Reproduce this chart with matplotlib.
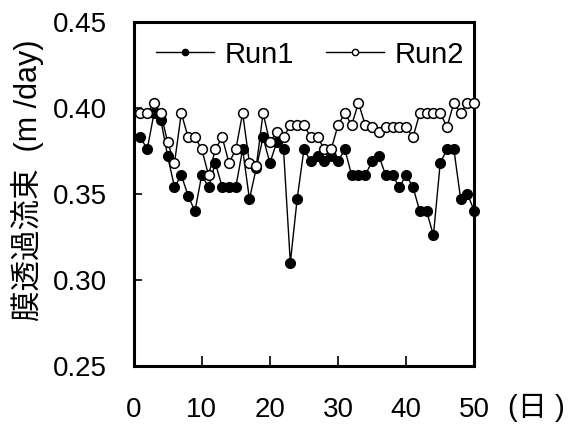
import matplotlib
matplotlib.use("Agg")
import matplotlib.pyplot as plt
from matplotlib.lines import Line2D

days = list(range(1, 51))

run1 = [0.383, 0.376, 0.397, 0.393, 0.372, 0.354, 0.361, 0.349, 0.340, 0.361,
        0.354, 0.368, 0.354, 0.354, 0.354, 0.376, 0.347, 0.365, 0.383, 0.368,
        0.380, 0.376, 0.310, 0.347, 0.376, 0.369, 0.372, 0.369, 0.372, 0.369,
        0.376, 0.361, 0.361, 0.361, 0.369, 0.372, 0.361, 0.361, 0.354, 0.361,
        0.354, 0.340, 0.340, 0.326, 0.368, 0.376, 0.376, 0.347, 0.350, 0.340]

run2 = [0.397, 0.397, 0.403, 0.397, 0.380, 0.368, 0.397, 0.383, 0.383, 0.376,
        0.361, 0.376, 0.383, 0.368, 0.376, 0.397, 0.368, 0.366, 0.397, 0.380,
        0.386, 0.383, 0.390, 0.390, 0.390, 0.383, 0.383, 0.376, 0.376, 0.390,
        0.397, 0.390, 0.403, 0.390, 0.389, 0.386, 0.389, 0.389, 0.389, 0.389,
        0.383, 0.397, 0.397, 0.397, 0.397, 0.389, 0.403, 0.397, 0.403, 0.403]

series_names = ["Run1", "Run2"]
yticks = [0.25, 0.30, 0.35, 0.40, 0.45]
ytick_labels = ["0.25", "0.30", "0.35", "0.40", "0.45"]
xticks = [0, 10, 20, 30, 40, 50]
xtick_labels = ["0", "10", "20", "30", "40", "50"]
ylabel = "膜透過流束  (m /day)"
xunit = "(日 )"

W, H = 569, 425
fig = plt.figure(figsize=(W / 100, H / 100), dpi=100)
ax = fig.add_axes([133.6 / W, 1 - 366 / H, (474.3 - 133.6) / W, (366 - 22) / H])

font = ["Liberation Sans", "Noto Sans CJK JP", "DejaVu Sans"]

ax.plot(days, run1, color="black", lw=1.0, marker="o", ms=7.0,
        mfc="black", mec="black", mew=1.0, clip_on=False, zorder=3)
ax.plot(days, run2, color="black", lw=1.0, marker="o", ms=7.0,
        mfc="white", mec="black", mew=1.1, clip_on=False, zorder=4)

ax.set_xlim(0, 50)
ax.set_ylim(0.25, 0.45)
ax.set_xticks(xticks)
ax.set_xticklabels(xtick_labels, family=font, fontsize=20)
ax.set_yticks(yticks)
ax.set_yticklabels(ytick_labels, family=font, fontsize=20)
ax.tick_params(axis="x", direction="in", length=7, width=1.2, pad=22)
ax.tick_params(axis="y", direction="in", length=6, width=1.2, pad=19)
for s in ax.spines.values():
    s.set_linewidth(2.2)

handles = [
    Line2D([], [], color="black", lw=1.0, marker="o", ms=4.5, mfc="black", mec="black"),
    Line2D([], [], color="black", lw=1.0, marker="o", ms=4.5, mfc="white", mec="black"),
]
leg = ax.legend(handles, series_names, loc="center", bbox_to_anchor=(0.518, 0.905),
                ncol=2, frameon=False, handlelength=2.0, handletextpad=0.35,
                columnspacing=1.1, prop={"family": font, "size": 21})

fig.text(27 / W, 1 - 180 / H, ylabel, rotation=90, ha="center", va="center",
         family=font, fontsize=22)
fig.text(536 / W, 1 - 408 / H, xunit, ha="center", va="center",
         family=font, fontsize=21)

fig.savefig("out.png", dpi=100)
